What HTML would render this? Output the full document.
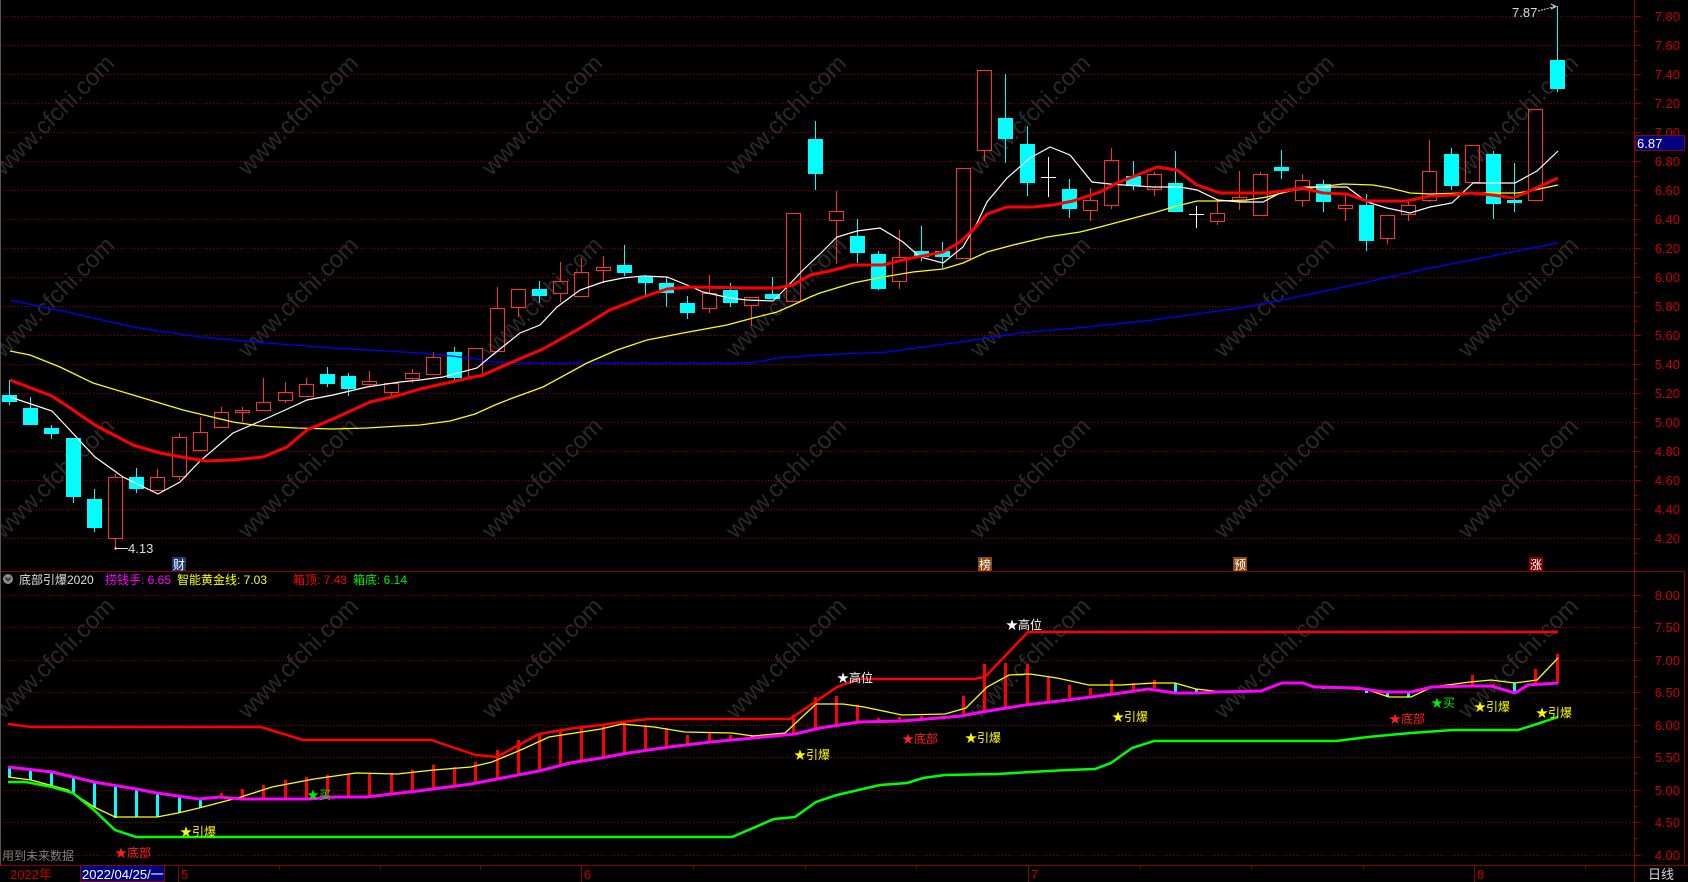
<!DOCTYPE html>
<html><head><meta charset="utf-8"><style>
html,body{margin:0;padding:0;background:#000;}
svg{display:block;}
text{font-family:"Liberation Sans","Noto Sans CJK SC",sans-serif;}
</style></head><body>
<svg width="1688" height="882" viewBox="0 0 1688 882" xmlns="http://www.w3.org/2000/svg">
<rect width="1688" height="882" fill="#000"/>
<!-- watermarks -->
<g fill="#2a2a2a" font-size="24" text-anchor="middle">
<text x="54" y="123" transform="rotate(-45 54 115)">www.cfchi.com</text>
<text x="298" y="123" transform="rotate(-45 298 115)">www.cfchi.com</text>
<text x="542" y="123" transform="rotate(-45 542 115)">www.cfchi.com</text>
<text x="786" y="123" transform="rotate(-45 786 115)">www.cfchi.com</text>
<text x="1030" y="123" transform="rotate(-45 1030 115)">www.cfchi.com</text>
<text x="1274" y="123" transform="rotate(-45 1274 115)">www.cfchi.com</text>
<text x="1518" y="123" transform="rotate(-45 1518 115)">www.cfchi.com</text>
<text x="54" y="305" transform="rotate(-45 54 297)">www.cfchi.com</text>
<text x="298" y="305" transform="rotate(-45 298 297)">www.cfchi.com</text>
<text x="542" y="305" transform="rotate(-45 542 297)">www.cfchi.com</text>
<text x="786" y="305" transform="rotate(-45 786 297)">www.cfchi.com</text>
<text x="1030" y="305" transform="rotate(-45 1030 297)">www.cfchi.com</text>
<text x="1274" y="305" transform="rotate(-45 1274 297)">www.cfchi.com</text>
<text x="1518" y="305" transform="rotate(-45 1518 297)">www.cfchi.com</text>
<text x="54" y="486" transform="rotate(-45 54 478)">www.cfchi.com</text>
<text x="298" y="486" transform="rotate(-45 298 478)">www.cfchi.com</text>
<text x="542" y="486" transform="rotate(-45 542 478)">www.cfchi.com</text>
<text x="786" y="486" transform="rotate(-45 786 478)">www.cfchi.com</text>
<text x="1030" y="486" transform="rotate(-45 1030 478)">www.cfchi.com</text>
<text x="1274" y="486" transform="rotate(-45 1274 478)">www.cfchi.com</text>
<text x="1518" y="486" transform="rotate(-45 1518 478)">www.cfchi.com</text>
<text x="54" y="666" transform="rotate(-45 54 658)">www.cfchi.com</text>
<text x="298" y="666" transform="rotate(-45 298 658)">www.cfchi.com</text>
<text x="542" y="666" transform="rotate(-45 542 658)">www.cfchi.com</text>
<text x="786" y="666" transform="rotate(-45 786 658)">www.cfchi.com</text>
<text x="1030" y="666" transform="rotate(-45 1030 658)">www.cfchi.com</text>
<text x="1274" y="666" transform="rotate(-45 1274 658)">www.cfchi.com</text>
<text x="1518" y="666" transform="rotate(-45 1518 658)">www.cfchi.com</text>
</g>
<!-- gridlines -->
<path stroke="#900000" stroke-width="1" stroke-dasharray="1 2" fill="none" d="M0 16.5H1634M0 45.5H1634M0 74.5H1634M0 103.5H1634M0 132.5H1634M0 161.5H1634M0 190.5H1634M0 219.5H1634M0 248.5H1634M0 277.5H1634M0 306.5H1634M0 335.5H1634M0 364.5H1634M0 393.5H1634M0 422.5H1634M0 451.5H1634M0 480.5H1634M0 509.5H1634M0 538.5H1634M0 595.5H1634M0 627.5H1634M0 660.5H1634M0 692.5H1634M0 725.5H1634M0 757.5H1634M0 790.5H1634M0 822.5H1634M0 855.5H1634"/>
<!-- frame lines -->
<path stroke="#8c0000" stroke-width="1" fill="none" d="M1634.5 0V882M0 571.5H1684.5V865M0 865.5H1688"/>
<path stroke="#555" stroke-width="1" d="M0.5 0V865"/>
<!-- axis ticks -->
<path stroke="#8c0000" stroke-width="1" fill="none" d="M1634 16.5H1641M1634 45.5H1641M1634 74.5H1641M1634 103.5H1641M1634 132.5H1641M1634 161.5H1641M1634 190.5H1641M1634 219.5H1641M1634 248.5H1641M1634 277.5H1641M1634 306.5H1641M1634 335.5H1641M1634 364.5H1641M1634 393.5H1641M1634 422.5H1641M1634 451.5H1641M1634 480.5H1641M1634 509.5H1641M1634 538.5H1641
M1634 31.5H1638M1634 60.5H1638M1634 89.5H1638M1634 118.5H1638M1634 147.5H1638M1634 176.5H1638M1634 205.5H1638M1634 234.5H1638M1634 263.5H1638M1634 292.5H1638M1634 321.5H1638M1634 350.5H1638M1634 379.5H1638M1634 408.5H1638M1634 437.5H1638M1634 466.5H1638M1634 495.5H1638M1634 524.5H1638M1634 553.5H1638
M1634 595.5H1641M1634 627.5H1641M1634 660.5H1641M1634 692.5H1641M1634 725.5H1641M1634 757.5H1641M1634 790.5H1641M1634 822.5H1641M1634 855.5H1641
M1634 611.5H1638M1634 643.5H1638M1634 676.5H1638M1634 708.5H1638M1634 741.5H1638M1634 773.5H1638M1634 806.5H1638M1634 838.5H1638"/>
<g fill="#c80000" font-size="13" text-anchor="end">
<text x="1680" y="21">7.80</text><text x="1680" y="50">7.60</text><text x="1680" y="79">7.40</text><text x="1680" y="108">7.20</text><text x="1680" y="137">7.00</text><text x="1680" y="166">6.80</text><text x="1680" y="195">6.60</text><text x="1680" y="224">6.40</text><text x="1680" y="253">6.20</text><text x="1680" y="282">6.00</text><text x="1680" y="311">5.80</text><text x="1680" y="340">5.60</text><text x="1680" y="369">5.40</text><text x="1680" y="398">5.20</text><text x="1680" y="427">5.00</text><text x="1680" y="456">4.80</text><text x="1680" y="485">4.60</text><text x="1680" y="514">4.40</text><text x="1680" y="543">4.20</text>
<text x="1680" y="600">8.00</text><text x="1680" y="632">7.50</text><text x="1680" y="665">7.00</text><text x="1680" y="697">6.50</text><text x="1680" y="730">6.00</text><text x="1680" y="762">5.50</text><text x="1680" y="795">5.00</text><text x="1680" y="827">4.50</text><text x="1680" y="860">4.00</text>
</g>
<!-- current price box -->
<rect x="1635.5" y="135.5" width="49" height="15" fill="#000080" stroke="#8c0000"/>
<text x="1637" y="148" font-size="13" fill="#fff">6.87</text>

<!-- candles: cyan -->
<path stroke="#00ffff" stroke-width="1" fill="none" d="M9.5 380V405M30.5 397V425M51.5 425V439M73.5 438V503M94.5 489V532M136.5 468V493M327.5 367V387M348.5 373V396M454.5 347V380M539.5 281V303M624.5 245V276M645.5 275V296M666.5 277V307M687.5 296V319M730.5 283V307M772.5 277V299M815.5 121V190M857.5 219V263M878.5 251V290M921.5 226V261M942.5 242V268M1005.5 74V163M1027.5 126V196M1069.5 179V218M1133.5 161V190M1175.5 151V212M1281.5 150V179M1323.5 180V212M1366.5 194V251M1451.5 148V190M1493.5 151V219M1514.5 163V212M1557.5 6V92"/>
<g fill="#00ffff">
<rect x="2" y="395" width="15" height="7"/><rect x="23" y="408" width="15" height="17"/><rect x="44" y="428" width="15" height="6"/><rect x="66" y="438" width="15" height="59"/><rect x="87" y="499" width="15" height="29"/><rect x="129" y="477" width="15" height="12"/><rect x="320" y="374" width="15" height="10"/><rect x="341" y="376" width="15" height="13"/><rect x="447" y="352" width="15" height="26"/><rect x="532" y="289" width="15" height="7"/><rect x="617" y="265" width="15" height="8"/><rect x="638" y="277" width="15" height="6"/><rect x="659" y="283" width="15" height="10"/><rect x="680" y="303" width="15" height="10"/><rect x="723" y="290" width="15" height="13"/><rect x="765" y="294" width="15" height="5"/><rect x="808" y="139" width="15" height="35"/><rect x="850" y="236" width="15" height="17"/><rect x="871" y="254" width="15" height="35"/><rect x="914" y="251" width="15" height="6"/><rect x="935" y="251" width="15" height="6"/><rect x="998" y="118" width="15" height="21"/><rect x="1020" y="144" width="15" height="39"/><rect x="1062" y="189" width="15" height="20"/><rect x="1126" y="176" width="15" height="10"/><rect x="1168" y="183" width="15" height="29"/><rect x="1274" y="167" width="15" height="4"/><rect x="1316" y="184" width="15" height="18"/><rect x="1359" y="205" width="15" height="36"/><rect x="1444" y="154" width="15" height="32"/><rect x="1486" y="154" width="15" height="50"/><rect x="1507" y="200" width="15" height="3"/><rect x="1550" y="60" width="15" height="29"/>
</g>
<!-- candles: red hollow -->
<path stroke="#ff3030" stroke-width="1" fill="none" d="M115.5 474V477M115.5 539V548M157.5 469V477M179.5 433V437M179.5 477V480M200.5 417V432M221.5 407V412M242.5 407V410M242.5 413V422M263.5 378V402M285.5 382V392M285.5 401V403M306.5 378V384M369.5 371V381M369.5 385V386M391.5 393V397M412.5 369V373M412.5 379V383M433.5 352V357M497.5 287V308M518.5 308V317M560.5 262V281M560.5 294V302M581.5 258V272M603.5 256V267M603.5 271V283M709.5 275V293M709.5 309V313M751.5 306V326M836.5 191V211M836.5 221V264M899.5 230V257M899.5 282V289M984.5 151V161M1090.5 188V200M1090.5 211V221M1111.5 148V160M1111.5 206V209M1154.5 172V174M1154.5 190V196M1217.5 201V213M1217.5 222V225M1239.5 171V197M1239.5 202V210M1260.5 172V174M1302.5 174V180M1302.5 201V207M1345.5 195V205M1345.5 209V221M1387.5 239V244M1408.5 200V205M1408.5 215V221M1429.5 140V171M1429.5 201V202"/>
<g fill="none" stroke="#ff3030" stroke-width="1">
<rect x="108.5" y="477.5" width="14" height="61"/><rect x="150.5" y="477.5" width="14" height="13"/><rect x="172.5" y="437.5" width="14" height="39"/><rect x="193.5" y="432.5" width="14" height="18"/><rect x="214.5" y="412.5" width="14" height="15"/><rect x="235.5" y="410.5" width="14" height="2"/><rect x="256.5" y="402.5" width="14" height="8"/><rect x="278.5" y="392.5" width="14" height="8"/><rect x="299.5" y="384.5" width="14" height="12"/><rect x="362.5" y="381.5" width="14" height="3"/><rect x="384.5" y="383.5" width="14" height="9"/><rect x="405.5" y="373.5" width="14" height="5"/><rect x="426.5" y="357.5" width="14" height="17"/><rect x="468.5" y="348.5" width="14" height="28"/><rect x="490.5" y="308.5" width="14" height="43"/><rect x="511.5" y="289.5" width="14" height="18"/><rect x="553.5" y="281.5" width="14" height="12"/><rect x="574.5" y="272.5" width="14" height="24"/><rect x="596.5" y="267.5" width="14" height="3"/><rect x="702.5" y="293.5" width="14" height="15"/><rect x="744.5" y="297.5" width="14" height="8"/><rect x="786.5" y="213.5" width="14" height="88"/><rect x="829.5" y="211.5" width="14" height="9"/><rect x="892.5" y="257.5" width="14" height="24"/><rect x="956.5" y="168.5" width="14" height="90"/><rect x="977.5" y="70.5" width="14" height="80"/><rect x="1083.5" y="200.5" width="14" height="10"/><rect x="1104.5" y="160.5" width="14" height="45"/><rect x="1147.5" y="174.5" width="14" height="15"/><rect x="1210.5" y="213.5" width="14" height="8"/><rect x="1232.5" y="197.5" width="14" height="4"/><rect x="1253.5" y="174.5" width="14" height="41"/><rect x="1295.5" y="180.5" width="14" height="20"/><rect x="1338.5" y="205.5" width="14" height="3"/><rect x="1380.5" y="215.5" width="14" height="23"/><rect x="1401.5" y="205.5" width="14" height="9"/><rect x="1422.5" y="171.5" width="14" height="29"/><rect x="1465.5" y="145.5" width="14" height="37"/><rect x="1528.5" y="109.5" width="14" height="91"/>
</g>
<path stroke="#fff" stroke-width="1" fill="none" d="M1048.5 157V197M1041 177.5H1056M1196.5 206V228M1189 214.5H1204"/>

<!-- MA lines -->
<polyline fill="none" stroke="#0000ff" stroke-width="1.3" points="10,300 67,312 133,327 200,337 267,343 333,348 420,353 443,355 477,359 493,362 543,363 743,363 757,362 777,358 820,355 887,352 953,343 1020,333 1087,327 1153,320 1240,308 1287,299 1363,283 1430,268 1497,255 1558,243"/>
<polyline fill="none" stroke="#ffff00" stroke-width="1.3" points="10,351 30,355 60,367 93,383 133,395 183,410 233,422 260,426 297,428 333,429 367,428 400,426 420,425 450,421 475,414 495,405 510,399 543,387 587,363 617,350 647,340 683,333 727,325 753,318 777,312 793,305 810,297 820,293 853,283 883,277 913,272 943,269 963,263 987,252 1013,245 1047,237 1080,232 1100,227 1130,219 1153,213 1177,206 1197,201 1220,201 1247,200 1267,197 1290,191 1310,188 1343,184 1373,185 1390,188 1410,193 1430,194 1463,193 1497,193 1517,193 1530,191 1558,185"/>
<polyline fill="none" stroke="#ffffff" stroke-width="1.2" points="10,397 52,411 67,427 95,457 123,477 158,494 180,482 200,461 233,433 263,420 283,411 307,400 333,395 367,387 400,382 420,380 443,377 477,368 490,357 520,333 540,325 557,307 580,290 603,282 623,278 643,276 667,277 687,285 703,292 730,298 747,300 773,301 787,287 803,270 820,254 837,237 857,231 880,228 903,242 920,257 943,263 963,247 977,223 987,202 1007,178 1030,158 1050,147 1070,155 1092,182 1110,184 1153,187 1180,187 1197,190 1218,200 1240,202 1263,202 1280,193 1303,187 1347,187 1367,202 1387,208 1410,213 1430,207 1452,203 1473,183 1515,183 1537,171 1558,151"/>
<polyline fill="none" stroke="#ff0000" stroke-width="3" stroke-linejoin="round" points="10,380 52,396 73,410 95,425 133,445 160,453 187,458 207,461 233,460 263,457 287,447 307,430 333,419 370,402 400,395 420,389 460,380 483,375 510,363 543,349 577,330 610,310 643,297 667,289 690,287 753,288 777,288 793,285 810,275 830,271 853,265 883,265 907,259 943,252 960,242 973,230 987,214 1007,207 1033,207 1053,205 1073,201 1100,192 1117,183 1140,174 1157,167 1177,170 1197,185 1220,193 1267,193 1283,191 1303,188 1323,193 1347,194 1367,201 1407,201 1430,196 1453,195 1470,193 1493,195 1513,198 1530,191 1558,178"/>

<!-- annotations main -->
<circle cx="115.5" cy="548.5" r="1.2" fill="#d8d8e8"/>
<path stroke="#d8d8e8" stroke-width="1" d="M116 548.5H128"/>
<text x="128" y="553" font-size="13" fill="#d8dce8">4.13</text>
<text x="1512" y="17" font-size="13" fill="#d8dce8">7.87</text>
<path stroke="#d8dce8" stroke-width="1" stroke-dasharray="2 1" fill="none" d="M1538 11L1555 6.5"/>
<path stroke="#d8dce8" stroke-width="1" fill="none" d="M1551 4L1556 6.5L1551 9"/>

<!-- event markers -->
<rect x="172" y="557" width="14" height="14" fill="#1a3a78"/>
<text x="173" y="569" font-size="12" fill="#fff">财</text>
<rect x="978" y="557" width="14" height="14" fill="#8a4a10"/>
<text x="979" y="569" font-size="12" fill="#fff">榜</text>
<rect x="1233" y="557" width="14" height="14" fill="#8a4a10"/>
<text x="1234" y="569" font-size="12" fill="#fff">预</text>
<rect x="1529" y="557" width="14" height="14" fill="#800000"/>
<text x="1530" y="569" font-size="12" fill="#fff">涨</text>

<!-- lower panel legend -->
<circle cx="8" cy="579" r="5" fill="#8a8a8a"/>
<path d="M5.5 577.5L8 580.5L10.5 577.5" stroke="#222" stroke-width="1.4" fill="none"/>
<g font-size="12">
<text x="19" y="584" fill="#e0e0e0">底部引爆2020</text>
<text x="105" y="584" fill="#ff00ff">捞钱手: 6.65</text>
<text x="177" y="584" fill="#ffff00">智能黄金线: 7.03</text>
<text x="293" y="584" fill="#ff0000">箱顶: 7.43</text>
<text x="353" y="584" fill="#00ee00">箱底: 6.14</text>
</g>

<!-- lower panel bars -->
<path stroke="#00ffff" stroke-width="3" fill="none" d="M9.5 767V777M30.5 770V780M51.5 772V786M73.5 777V793M94.5 782V807M115.5 785V818M136.5 789V817M157.5 793V817M179.5 796V813M200.5 799V808M1175.5 683V693M1196.5 689V693M1239.5 690V693M1323.5 686V689M1366.5 689V693M1387.5 691V697M1408.5 692V697M1514.5 683V693"/>
<path stroke="#ff0000" stroke-width="3" fill="none" d="M221.5 793V798M242.5 789V799M263.5 785V799M285.5 780V799M306.5 777V799M327.5 775V798M348.5 774V797M369.5 773V797M391.5 773V794M412.5 770V792M433.5 765V789M454.5 767V787M475.5 762V784M497.5 750V779M518.5 740V774M539.5 735V770M560.5 730V766M581.5 727V762M603.5 724V758M624.5 722V754M645.5 725V751M666.5 728V747M687.5 735V744M709.5 733V743M730.5 735V740M751.5 735V737M793.5 715V733M815.5 697V728M836.5 696V725M857.5 705V723M878.5 718V722M899.5 717V721M921.5 716V719M942.5 716V718M963.5 696V715M984.5 664V713M1005.5 663V707M1027.5 664V705M1048.5 677V702M1069.5 685V698M1090.5 688V695M1111.5 680V693M1133.5 683V691M1154.5 680V688M1472.5 675V686M1493.5 684V686M1535.5 669V685M1557.5 654V683"/>
<!-- lower panel lines -->
<polyline fill="none" stroke="#ffff00" stroke-width="1.3" points="8,777 31,780 68,790 94,807 115,817 157,817 178,813 199,808 241,797 272,787 314,779 356,773 397,774 434,770 471,767 492,762 523,749 549,737 601,729 622,724 654,727 685,732 732,733 753,736 785,733 816,704 843,704 864,707 902,715 945,714 966,708 987,687 1009,675 1030,674 1057,678 1089,685 1121,685 1154,683 1175,683 1196,689 1223,692 1261,691 1282,683 1303,683 1314,686 1368,690 1389,697 1411,697 1432,687 1470,682 1491,680 1515,683 1537,680 1558,658"/>
<polyline fill="none" stroke="#ff00ff" stroke-width="3" points="8,767 52,772 94,782 136,789 157,793 199,799 220,797 241,799 309,799 335,797 366,797 418,791 471,784 497,779 539,771 570,763 601,758 628,753 669,747 711,742 753,738 795,734 820,728 859,722 902,721 939,718 961,716 982,712 1025,705 1068,700 1121,693 1148,689 1175,693 1196,693 1218,692 1261,691 1282,683 1303,683 1314,687 1357,688 1384,692 1411,692 1432,687 1470,686 1491,686 1515,693 1528,685 1558,683"/>
<polyline fill="none" stroke="#ff0000" stroke-width="2.5" points="8,724 31,727 261,727 303,740 431,740 476,755 497,757 539,734 575,728 601,725 622,722 649,719 790,719 837,687 859,679 974,679 985,677 1028,632 1558,632"/>
<polyline fill="none" stroke="#00ff00" stroke-width="2.5" points="8,782 26,782 52,787 73,793 94,810 115,830 136,837 732,837 774,819 795,817 816,802 837,795 880,785 907,783 923,778 945,775 998,774 1030,772 1068,770 1095,769 1111,763 1132,748 1154,741 1336,741 1368,737 1389,735 1411,733 1453,730 1518,730 1534,725 1558,717"/>

<!-- lower panel signal labels -->
<g font-size="12">
<text x="837" y="682" fill="#ffffff">★高位</text>
<text x="1006" y="629" fill="#ffffff">★高位</text>
<text x="902" y="743" fill="#ff2020">★底部</text>
<text x="965" y="742" fill="#ffff00">★引爆</text>
<text x="794" y="759" fill="#ffff00">★引爆</text>
<text x="1112" y="721" fill="#ffff00">★引爆</text>
<text x="1389" y="723" fill="#ff2020">★底部</text>
<text x="1431" y="707" fill="#00ee00">★买</text>
<text x="1474" y="711" fill="#ffff00">★引爆</text>
<text x="1536" y="717" fill="#ffff00">★引爆</text>
<text x="307" y="799" fill="#00ee00">★买</text>
<text x="180" y="836" fill="#ffff00">★引爆</text>
<text x="115" y="857" fill="#ff2020">★底部</text>
<text x="2" y="860" fill="#808080">用到未来数据</text>
</g>

<!-- date bar -->
<rect x="80.5" y="865.5" width="84" height="16" fill="#000080" stroke="#8c0000"/>
<path stroke="#8c0000" stroke-width="1" fill="none" d="M178.5 865V882M581.5 865V882M1028.5 865V882M1474.5 865V882M279.5 865V869M380.5 865V869M480.5 865V869M693.5 865V869M805.5 865V869M916.5 865V869M1140.5 865V869M1251.5 865V869M1363.5 865V869M1585.5 865V869"/>
<g font-size="13">
<text x="10" y="879" fill="#c80000">2022年</text>
<text x="82" y="879" fill="#ffffff">2022/04/25/一</text>
<text x="181" y="879" fill="#c80000">5</text>
<text x="584" y="879" fill="#c80000">6</text>
<text x="1031" y="879" fill="#c80000">7</text>
<text x="1477" y="879" fill="#c80000">8</text>
<text x="1648" y="879" fill="#d8d8d8">日线</text>
</g>
</svg>
</body></html>
